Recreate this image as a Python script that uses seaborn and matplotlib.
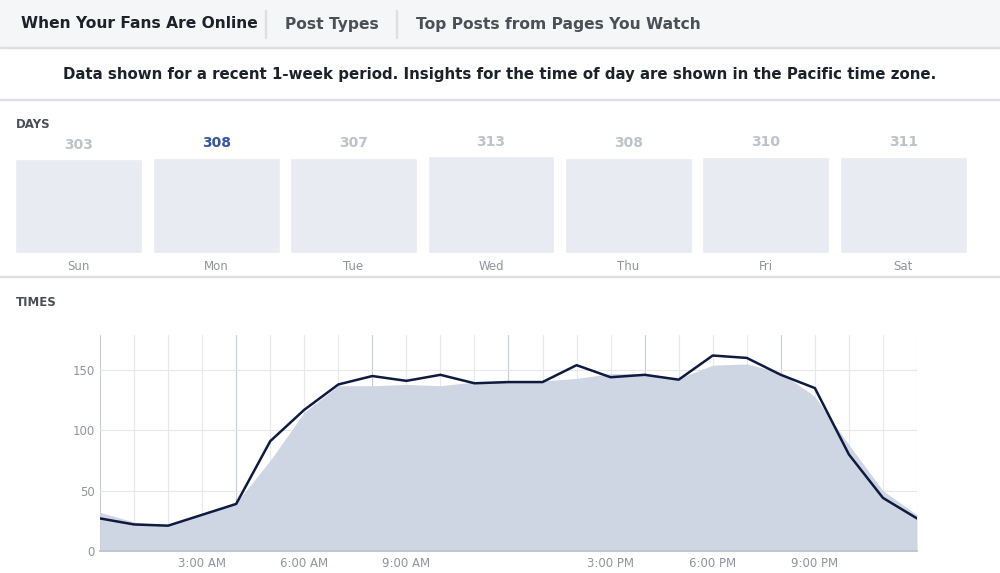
import matplotlib
matplotlib.use("Agg")
import matplotlib.pyplot as plt
import seaborn as sns
import pandas as pd
from matplotlib.patches import Rectangle

days = ["Sun", "Mon", "Tue", "Wed", "Thu", "Fri", "Sat"]
day_values = [303, 308, 307, 313, 308, 310, 311]
hours = list(range(25))
fans_line = [27, 22, 21, 30, 39, 91, 117, 138, 145, 141, 146, 139, 140, 140, 154, 144, 146, 142, 162, 160, 146, 135, 80, 44, 27]
fans_area = [32, 24, 21, 30, 40, 75, 115, 137, 137, 138, 137, 140, 141, 141, 143, 147, 147, 143, 154, 155, 148, 128, 88, 50, 30]
xtick_hours = [3, 6, 9, 15, 18, 21]
xtick_labels = ["3:00 AM", "6:00 AM", "9:00 AM", "3:00 PM", "6:00 PM", "9:00 PM"]
yticks = [0, 50, 100, 150]

sns.set_theme(style="white")
plt.rcParams['font.family'] = ['DejaVu Sans']
W, H = 1000, 573
fig = plt.figure(figsize=(10, 5.73), dpi=100)

def ax_px(l, t, r, b):
    return fig.add_axes([l / W, 1 - b / H, (r - l) / W, (b - t) / H])

def fy(p):
    return 1 - p / H

fig.patches.append(Rectangle((0, fy(47)), 1, 47 / H, transform=fig.transFigure, color="#f5f6f7", zorder=0))
fig.patches.append(Rectangle((0, fy(48)), 1, 1.2 / H, transform=fig.transFigure, color="#dddfe2"))
for x in [265, 396]:
    fig.patches.append(Rectangle((x / W, fy(38)), 1.2 / W, 28 / H, transform=fig.transFigure, color="#dddfe2"))
fig.text(21 / W, fy(24), "When Your Fans Are Online", fontsize=11.2, weight="bold", color="#1d2129", va="center")
fig.text(285 / W, fy(24), "Post Types", fontsize=11.2, weight="bold", color="#4b4f56", va="center")
fig.text(416 / W, fy(24), "Top Posts from Pages You Watch", fontsize=11.2, weight="bold", color="#4b4f56", va="center")
fig.text(0.5, fy(74), "Data shown for a recent 1-week period. Insights for the time of day are shown in the Pacific time zone.",
         fontsize=10.8, weight="bold", color="#1d2129", ha="center", va="center")
for y in [100, 277]:
    fig.patches.append(Rectangle((0, fy(y)), 1, 1.2 / H, transform=fig.transFigure, color="#dddfe2"))
fig.text(16 / W, fy(125), "DAYS", fontsize=8.5, weight="bold", color="#4b4f56", va="center")
fig.text(16 / W, fy(302), "TIMES", fontsize=8.5, weight="bold", color="#4b4f56", va="center")

axd = ax_px(10, 156, 972, 253)
df_days = pd.DataFrame({"day": days, "value": day_values})
sns.barplot(data=df_days, x="day", y="value", color="#e9ebf2", width=0.924, ax=axd, saturation=1)
axd.set_ylim(0, 313)
axd.set_xlim(-0.5, 6.5)
axd.axis("off")
for i, (d, v) in enumerate(zip(days, day_values)):
    bold = d == "Mon"
    axd.text(i, v + 24, str(v), ha="center", va="bottom", fontsize=10, weight="bold",
             color="#365899" if bold else "#bec3c9")
    axd.text(i, -45, d, ha="center", va="center", fontsize=8.5, color="#90949c")

axt = ax_px(100, 335, 917, 551)
axt.fill_between(hours, fans_area, color="#ced5e3", zorder=1, lw=0)
df_t = pd.DataFrame({"hour": hours, "fans": fans_line})
sns.lineplot(data=df_t, x="hour", y="fans", color="#0e1a3f", lw=1.8, ax=axt, zorder=3)
axt.set_xlim(0, 24)
axt.set_ylim(0, 179)
for h in hours:
    axt.axvline(h, color="#c8ccd3" if h % 4 == 0 else "#e6e8ec", lw=0.8, zorder=0.5)
for y in yticks[1:]:
    axt.axhline(y, color="#e6e8ec", lw=0.8, zorder=0.5)
axt.set_xticks(xtick_hours)
axt.set_xticklabels(xtick_labels, fontsize=8.5, color="#90949c")
axt.set_yticks(yticks)
axt.set_yticklabels([str(v) for v in yticks], fontsize=8.5, color="#90949c")
axt.tick_params(length=0, pad=4)
axt.set_xlabel("")
axt.set_ylabel("")
for s in axt.spines.values():
    s.set_visible(False)
axt.spines["bottom"].set_visible(True)
axt.spines["bottom"].set_color("#bec3c9")

fig.savefig("out.png", dpi=100)
